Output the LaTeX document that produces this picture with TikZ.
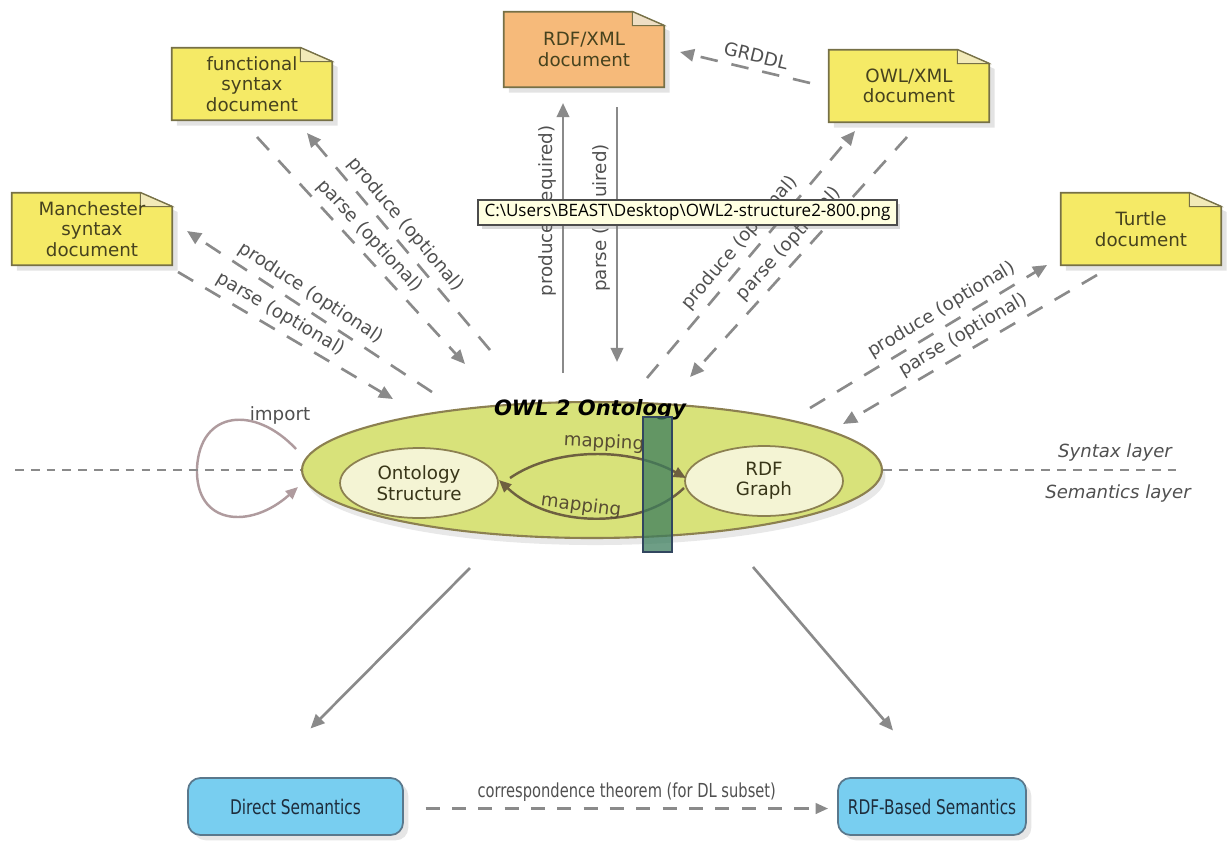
\documentclass[tikz,border=0pt]{standalone}
\usepackage{fontspec}
\setmainfont{DejaVu Sans}
\newfontfamily\condfont[FakeStretch=0.76]{DejaVu Sans}
\newfontfamily\tipfont{Open Sans}
\usepackage{tikz}
\usetikzlibrary{arrows.meta}
\usetikzlibrary{calc}
\usetikzlibrary{shapes.geometric}
\usetikzlibrary{shadows}
\usetikzlibrary{backgrounds}

\definecolor{notefill}{RGB}{245,234,102}
\definecolor{notefold}{RGB}{242,234,184}
\definecolor{rdffill}{RGB}{246,186,122}
\definecolor{rdffold}{RGB}{238,222,196}
\definecolor{noteline}{RGB}{118,112,70}
\definecolor{notetext}{RGB}{70,66,30}
\definecolor{ontofill}{RGB}{216,226,122}
\definecolor{ontoline}{RGB}{140,128,80}
\definecolor{innerfill}{RGB}{244,244,212}
\definecolor{mapcol}{RGB}{110,96,64}
\definecolor{arrowgrey}{RGB}{138,138,138}
\definecolor{labelgrey}{RGB}{80,80,80}
\definecolor{semfill}{RGB}{120,206,240}
\definecolor{semline}{RGB}{90,120,140}
\definecolor{semtext}{RGB}{30,45,60}
\definecolor{importcol}{RGB}{175,155,158}
\definecolor{tipfill}{RGB}{255,255,225}
\definecolor{barfill}{RGB}{61,125,93}
\definecolor{barline}{RGB}{50,70,95}

% paper sheet with a folded corner behind a document node
\newcommand\docshape[3]{%
  \begin{pgfonlayer}{background}
    \filldraw[draw=noteline, line width=1pt, fill=#2,
      drop shadow={opacity=0.22, shadow xshift=3pt, shadow yshift=-3pt}]
      (#1.south west) -- (#1.north west) -- ([xshift=-0.64cm]#1.north east)
      -- ([yshift=-0.28cm]#1.north east) -- (#1.south east) -- cycle;
    \filldraw[draw=noteline, line width=0.6pt, fill=#3]
      ([xshift=-0.64cm]#1.north east) -- ([xshift=-0.64cm,yshift=-0.28cm]#1.north east)
      -- ([yshift=-0.28cm]#1.north east) -- cycle;
  \end{pgfonlayer}}

\begin{document}
\begin{tikzpicture}[x=0.02cm, y=-0.02cm,
    every node/.style={font=\fontsize{10.4}{11.6}\selectfont},
    docnote/.style={align=center, text=notetext, minimum width=3.2cm, minimum height=1.44cm, inner sep=2pt},
    onto/.style={ellipse, draw=ontoline, line width=1.2pt, fill=ontofill, minimum width=11.6cm,
      minimum height=2.72cm, inner sep=0pt, drop shadow={opacity=0.18, shadow xshift=2pt, shadow yshift=-4pt}},
    inner/.style={ellipse, draw=ontoline, line width=1pt, fill=innerfill, minimum width=3.16cm,
      minimum height=1.4cm, inner sep=0pt, align=center, text=notetext!80!black},
    sem/.style={rectangle, rounded corners=7pt, draw=semline, line width=1pt, fill=semfill,
      minimum width=4.3cm, minimum height=1.14cm, text=semtext, font=\condfont\fontsize{11.5}{13}\selectfont,
      drop shadow={opacity=0.2, shadow xshift=3pt, shadow yshift=-3pt}},
    optline/.style={draw=arrowgrey, line width=1.5pt, dash pattern=on 10pt off 8pt, -{Triangle[length=8pt,width=7pt]}},
    reqline/.style={draw=arrowgrey, line width=1.5pt, -{Triangle[length=8pt,width=7pt]}},
    semarrow/.style={draw=arrowgrey, line width=1.5pt, -{Triangle[length=8pt,width=7pt]}},
    corrline/.style={draw=arrowgrey, line width=1.3pt, dash pattern=on 8pt off 7pt, -{Triangle[length=7pt,width=6pt]}},
    mapline/.style={draw=mapcol, line width=1.4pt, -{Triangle[length=7pt,width=6pt]}},
    importline/.style={draw=importcol, line width=1.4pt, -{Triangle[length=7pt,width=6pt]}},
    layerline/.style={draw=arrowgrey, line width=1.1pt, dash pattern=on 5pt off 4pt},
    lbl/.style={text=labelgrey},
    layerlbl/.style={text=labelgrey, font=\fontsize{10.3}{12}\itshape\selectfont},
    tipbox/.style={draw=black!70, line width=0.8pt, fill=tipfill, minimum width=8.38cm, minimum height=0.5cm,
      inner sep=1pt, font=\tipfont\fontsize{9.7}{11}\selectfont, drop shadow={opacity=0.3, shadow xshift=2pt, shadow yshift=-2pt}},
    greenbar/.style={draw=barline, line width=1.2pt, fill=barfill, fill opacity=0.75, minimum width=0.58cm,
      minimum height=2.7cm, inner sep=0pt}]
  \useasboundingbox (0,0) rectangle (1229,842);

  % ontology in the middle
  \node[onto] (onto) at (592,470) {};
  \node[font=\fontsize{12}{14}\bfseries\itshape\selectfont] (otitle) at (590,410) {OWL 2 Ontology};
  \node[inner] (ostruct) at (419,483) {Ontology\\Structure};
  \node[inner] (rgraph) at (764,481) {RDF\\Graph};
  \draw[mapline] ([shift={(91,-5)}]ostruct.center) .. controls (555,447) and (630,447)
    .. ([shift={(-78,-3)}]rgraph.center) node[pos=0.55, sloped, above=-2pt, text=mapcol!80!black] (map1) {mapping};
  \draw[mapline] ([shift={(-80,7)}]rgraph.center) .. controls (640,530) and (550,528)
    .. ([shift={(80,-3)}]ostruct.center) node[pos=0.57, sloped, above=-3pt, text=mapcol!80!black] (map2) {mapping};

  % import loop
  \draw[importline] ([shift={(-296,-21)}]onto.center) .. controls (255,405) and (200,410) .. (197,468)
    .. controls (195,525) and (250,530) .. ([shift={(-294,17)}]onto.center);
  \node[lbl] (imp) at (280,415) {import};

  % layers
  \coordinate (lyl) at (15,470);
  \coordinate (lyr) at (1178,470);
  \draw[layerline] (lyl) -- (onto.west);
  \draw[layerline] (onto.east) -- (lyr);
  \node[layerlbl] (synl) at (1115,452) {Syntax layer};
  \node[layerlbl] (seml) at (1118,493) {Semantics layer};

  % documents
  \node[docnote] (man) at (92,229) {Manchester\\syntax\\document};
  \node[docnote] (fun) at (252,84) {functional\\syntax\\document};
  \node[docnote, minimum height=1.5cm] (rdfx) at (584,49.5) {RDF/XML\\document};
  \node[docnote] (owlx) at (909,86) {OWL/XML\\document};
  \node[docnote] (ttl) at (1141,229) {Turtle\\document};
  \docshape{man}{notefill}{notefold}
  \docshape{fun}{notefill}{notefold}
  \docshape{rdfx}{rdffill}{rdffold}
  \docshape{owlx}{notefill}{notefold}
  \docshape{ttl}{notefill}{notefold}

  % produce / parse
  \draw[optline] ([shift={(-160,-78)}]onto.center) -- ([shift={(95,2)}]man.center)
    node[pos=0.53, sloped, above, lbl] (manprod) {produce (optional)};
  \draw[optline] ([shift={(86,43)}]man.center) -- ([shift={(-199,-71)}]onto.center)
    node[pos=0.44, sloped, above, lbl] (manpars) {parse (optional)};
  \draw[optline] ([shift={(-102,-120)}]onto.center) -- ([shift={(55,49)}]fun.center)
    node[pos=0.53, sloped, above, lbl] (funprod) {produce (optional)};
  \draw[optline] ([shift={(5,53)}]fun.center) -- ([shift={(-127,-106)}]onto.center)
    node[pos=0.485, sloped, above, lbl] (funpars) {parse (optional)};
  \draw[reqline] ([shift={(-29,-97)}]onto.center) -- ([shift={(-21,53.5)}]rdfx.center)
    node[pos=0.6, sloped, above, lbl] (rdfprod) {produce (required)};
  \draw[reqline] ([shift={(33,57.5)}]rdfx.center) -- ([shift={(25,-108)}]onto.center)
    node[pos=0.435, rotate=90, anchor=south, lbl] (rdfpars) {parse (required)};
  \draw[optline] ([shift={(-99,-3)}]owlx.center) -- ([shift={(96,2.5)}]rdfx.center)
    node[pos=0.44, sloped, above, lbl] (grddl) {GRDDL};
  \draw[optline] ([shift={(55,-92)}]onto.center) -- ([shift={(-54,45)}]owlx.center)
    node[pos=0.505, sloped, above, lbl] (owlprod) {produce (optional)};
  \draw[optline] ([shift={(-2,51)}]owlx.center) -- ([shift={(98,-93)}]onto.center)
    node[pos=0.49, sloped, above, lbl] (owlpars) {parse (optional)};
  \draw[optline] ([shift={(218,-62)}]onto.center) -- ([shift={(-94,36)}]ttl.center)
    node[pos=0.59, sloped, above, lbl] (ttlprod) {produce (optional)};
  \draw[optline] ([shift={(-44,46)}]ttl.center) -- ([shift={(251,-46)}]onto.center)
    node[pos=0.495, sloped, above, lbl] (ttlpars) {parse (optional)};

  % semantics
  \node[sem] (dsem) at (295.5,806.5) {Direct Semantics};
  \node[sem, minimum width=3.76cm] (rsem) at (932,806.5) {RDF-Based Semantics};
  \draw[semarrow] ([shift={(-122,98)}]onto.center) -- ([shift={(15,-78)}]dsem.center);
  \draw[semarrow] ([shift={(161,97)}]onto.center) -- ([shift={(-39,-76)}]rsem.center);
  \draw[corrline] ([shift={(130,2)}]dsem.center) -- ([shift={(-104,2)}]rsem.center)
    node[pos=0.5, above, lbl, font=\condfont\fontsize{11}{12}\selectfont] (corr) {correspondence theorem (for DL subset)};

  % overlays from the screenshot
  \node[greenbar] (bar) at (657.5,484.5) {};
  \node[tipbox] (tip) at (687.5,212.5) {C:\textbackslash Users\textbackslash BEAST\textbackslash Desktop\textbackslash OWL2-structure2-800.png};
\end{tikzpicture}
\end{document}
